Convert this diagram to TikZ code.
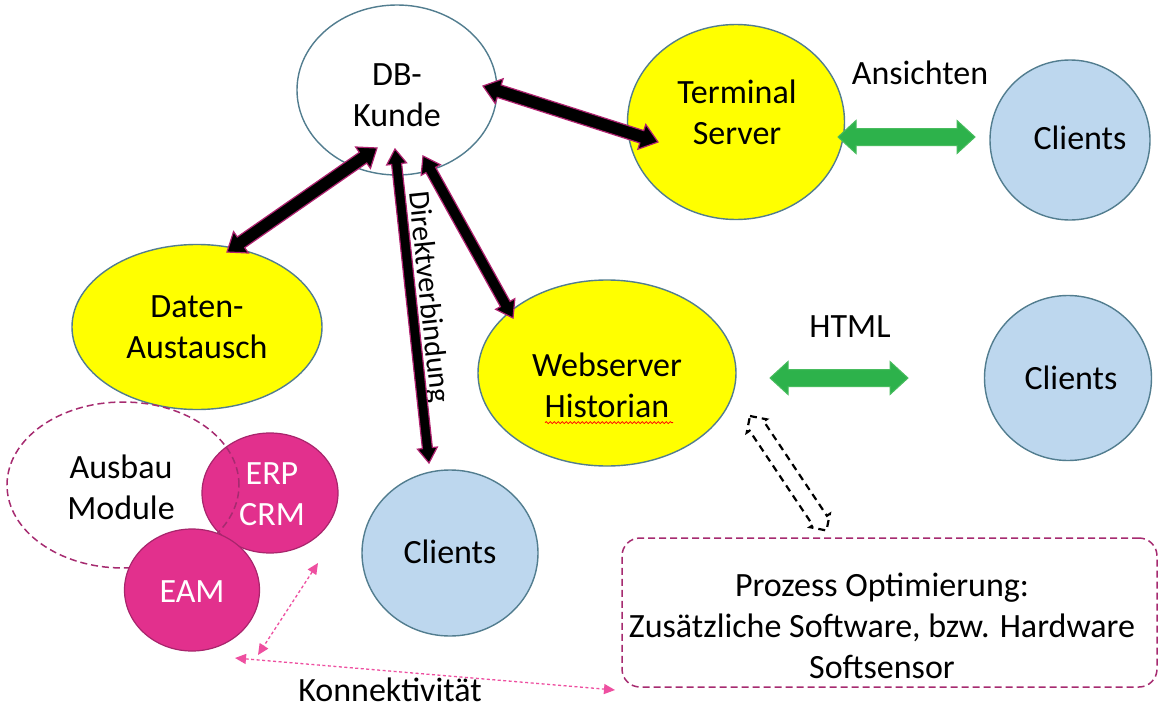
\documentclass[tikz,border=0pt]{standalone}
\usepackage{fontspec}
\setmainfont{Carlito}
\usetikzlibrary{shapes.geometric,calc,arrows.meta,decorations.pathmorphing}

\definecolor{rim}{HTML}{527D8F}
\definecolor{sun}{HTML}{FFFF00}
\definecolor{sky}{HTML}{BDD7EE}
\definecolor{berry}{HTML}{E2308D}
\definecolor{berryrim}{HTML}{A8256C}
\definecolor{plum}{HTML}{A62B70}
\definecolor{rose}{HTML}{EE4FA0}
\definecolor{leaf}{HTML}{2DB24B}
\definecolor{leafrim}{HTML}{48BC5E}
\definecolor{edge}{HTML}{B02270}

% double-headed block arrow: #1 style, #2/#3 end points,
% #4 half shaft width, #5 half head width, #6 head length
\newcommand\blockarrow[6]{%
  \path[#1] (#2)
    -- ($(#2)!#6!(#3)!#5!90:(#3)$)
    -- ($(#2)!#6!(#3)!#4!90:(#3)$)
    -- ($(#3)!#6!(#2)!#4!-90:(#2)$)
    -- ($(#3)!#6!(#2)!#5!-90:(#2)$)
    -- (#3)
    -- ($(#3)!#6!(#2)!#5!90:(#2)$)
    -- ($(#3)!#6!(#2)!#4!90:(#2)$)
    -- ($(#2)!#6!(#3)!#4!-90:(#3)$)
    -- ($(#2)!#6!(#3)!#5!-90:(#3)$)
    -- cycle;}

\tikzset{
  oval/.style={ellipse, inner sep=0pt, line width=1.4pt, draw=rim},
  sunoval/.style={oval, fill=sun},
  skyoval/.style={oval, fill=sky},
  plainoval/.style={oval, fill=white},
  berryoval/.style={ellipse, inner sep=0pt, line width=1.2pt, draw=berryrim, fill=berry},
  lbl/.style={inner sep=0pt, align=center, font=\fontsize{34}{41}\selectfont},
  wlbl/.style={lbl, text=white},
  plumdash/.style={draw=plum, line width=1.5pt, dash pattern=on 7pt off 4pt},
  dotarrow/.style={draw=rose, line width=1.3pt, dash pattern=on 3pt off 2.5pt,
    {Triangle[length=11pt,width=10pt]}-{Triangle[length=11pt,width=10pt]}},
  blk/.style={fill=black, draw=edge, line width=1.2pt, line join=miter},
  grn/.style={fill=leaf, draw=leafrim, line width=1pt},
  hollow/.style={draw=black, line width=2.2pt, dash pattern=on 7pt off 5pt},
}

\begin{document}
\begin{tikzpicture}[x=1pt, y=-1pt]
\useasboundingbox[fill=white] (0,0) rectangle (1162,709);

% main shapes
\node[plainoval, minimum width=200pt, minimum height=170pt] (db)  at (397,90)  {};
\node[sunoval,   minimum width=217pt, minimum height=195pt] (ts)  at (736,122) {};
\node[skyoval,   minimum width=160pt, minimum height=160pt] (cl1) at (1070,140) {};
\node[sunoval,   minimum width=250pt, minimum height=165pt] (da)  at (197,327) {};
\node[sunoval,   minimum width=258pt, minimum height=186pt] (ws)  at (607,373) {};
\node[skyoval,   minimum width=167pt, minimum height=165pt] (cl2) at (1068,378) {};
\node[skyoval,   minimum width=176pt, minimum height=166pt] (cl3) at (450,553) {};

% extension modules
\node[berryoval, minimum width=136pt, minimum height=120pt] (erp) at (270,493) {};
\node[plumdash, ellipse, inner sep=0pt, minimum width=232pt, minimum height=166pt] (mods) at (123,485) {};
\node[berryoval, minimum width=135pt, minimum height=122pt] (eam) at (192,590) {};

% process optimisation box
\node[plumdash, rectangle, rounded corners=18pt, minimum width=535pt, minimum height=149pt] (opt) at (889.5,612.5) {};

% labels
\node[lbl] (dbT)   at (397,95)   {DB-\\Kunde};
\node[lbl] (tsT)   at (737,112)  {Terminal\\Server};
\node[lbl] (cl1T)  at (1080,138) {Clients};
\node[lbl] (ansT)  at (920,73)   {Ansichten};
\node[lbl] (daT)   at (197,327)  {Daten-\\Austausch};
\node[lbl] (wsT)   at (607,385)  {Webserver\\Historian};
\node[lbl] (htmlT) at (850,327)  {HTML};
\node[lbl] (cl2T)  at (1071,378) {Clients};
\node[lbl] (cl3T)  at (450,552)  {Clients};
\node[lbl] (modsT) at (121,487)  {Ausbau\\Module};
\node[wlbl] (erpT) at (272,494)  {ERP\\CRM};
\node[wlbl] (eamT) at (192,592)  {EAM};
\node[lbl] (optT)  at (882,626)  {Prozess Optimierung:\\Zusätzliche Software, bzw. Hardware\\Softsensor};
\node[lbl] (konT)  at (390,690)  {Konnektivität};
% caption running along the direct link, read from top to bottom
\node[inner sep=0pt, rotate=-84, font=\fontsize{30}{36}\selectfont] (dirT) at (428,297)
  {Direktverbindung};

% spell-check mark under "Historian"
\draw[red, line width=0.8pt, decorate, decoration={snake, amplitude=1pt, segment length=4pt}]
  ($(wsT.south)+(-62,5)$) -- ($(wsT.south)+(66,5)$);

% connector end points
\coordinate (dbR)  at ($(db)+(86,-4)$);
\coordinate (tsL)  at ($(ts)+(-78,20)$);
\coordinate (dbL)  at ($(db)+(-20,58)$);
\coordinate (daU)  at ($(da)+(30,-75)$);
\coordinate (dbB)  at ($(db)+(-2,59)$);
\coordinate (clU)  at ($(cl3)+(-21,-90)$);
\coordinate (dbS)  at ($(db)+(26,66)$);
\coordinate (wsU)  at ($(ws)+(-94,-55)$);
\coordinate (tsR)  at ($(ts)+(102,15)$);
\coordinate (c1L)  at ($(cl1)+(-95,-3)$);
\coordinate (wsR)  at ($(ws)+(163,5)$);
\coordinate (c2L)  at ($(cl2)+(-160,0)$);
\coordinate (wsD)  at ($(ws)+(143,43)$);
\coordinate (optU) at ($(opt)+(-63,-82)$);
\coordinate (erpD) at ($(erp)+(48,70)$);
\coordinate (eamR) at ($(eam)+(66,65)$);
\coordinate (eamD) at ($(eam)+(43,68)$);
\coordinate (optL) at ($(opt)+(-274.5,77.5)$);

% database links
\blockarrow{blk}{dbR}{tsL}{6.5pt}{13pt}{17pt}
\blockarrow{blk}{dbL}{daU}{6.5pt}{13pt}{17pt}
\blockarrow{blk}{dbB}{clU}{5pt}{10pt}{15pt}
\blockarrow{blk}{dbS}{wsU}{5.5pt}{11pt}{16pt}

% client views
\blockarrow{grn}{tsR}{c1L}{8.5pt}{16.5pt}{18pt}
\blockarrow{grn}{wsR}{c2L}{8.5pt}{16.5pt}{18pt}

% optimisation link
\blockarrow{hollow}{wsD}{optU}{8.5pt}{12pt}{12pt}

% connectivity
\draw[dotarrow] (erpD) -- (eamR);
\draw[dotarrow] (eamD) -- (optL);
\end{tikzpicture}
\end{document}
